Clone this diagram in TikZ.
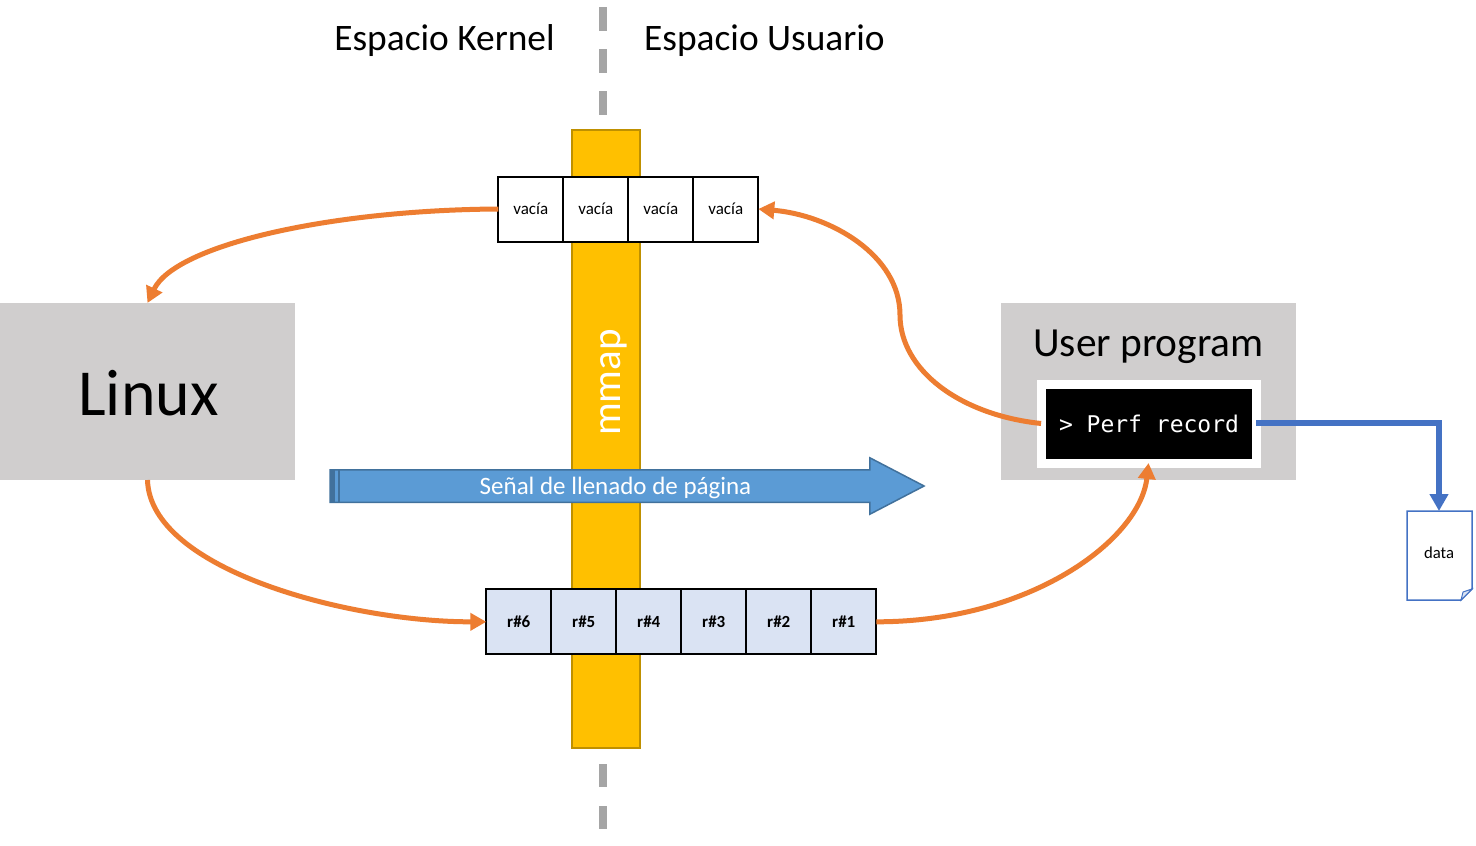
\documentclass[tikz,border=0pt]{standalone}
\usepackage{fontspec}
\setmainfont{Carlito}
\setmonofont{DejaVu Sans Mono}
\usetikzlibrary{arrows.meta}
\usetikzlibrary{shapes.arrows}
\definecolor{boxgray}{HTML}{D0CECE}
\definecolor{busorange}{HTML}{ED7D31}
\definecolor{diskblue}{HTML}{4472C4}
\definecolor{mmapgold}{HTML}{FFC000}
\definecolor{mmapedge}{HTML}{BF9000}
\definecolor{signalblue}{HTML}{5B9BD5}
\definecolor{signaledge}{HTML}{41719C}
\definecolor{cellblue}{HTML}{DAE3F3}
\definecolor{dashgray}{HTML}{A5A5A5}
\tikzset{
  bigbox/.style={fill=boxgray, minimum width=295pt, minimum height=177pt, inner sep=0pt, outer sep=0pt},
  cellbox/.style={draw=black, line width=2pt, minimum width=65pt, minimum height=65pt, inner sep=0pt, outer sep=0pt, font=\fontsize{17}{20}\selectfont},
  fullcell/.style={cellbox, fill=cellblue, font=\fontsize{17}{20}\selectfont\bfseries},
  title/.style={font=\fontsize{37.4}{42}\selectfont},
  flow/.style={draw=busorange, line width=5pt, -{Triangle[length=16pt,width=17pt]}},
  spacedash/.style={draw=dashgray, line width=7.5pt}
}
\begin{document}
\begin{tikzpicture}[x=1pt,y=-1pt]
      \useasboundingbox (0,0) rectangle (1476,846);
      \fill[white] (0,0) rectangle (1476,846);
      % kernel / user split
      \draw[spacedash] (603,7) -- (603,31);
      \draw[spacedash] (603,49) -- (603,73);
      \draw[spacedash] (603,91) -- (603,115);
      \draw[spacedash] (603,764) -- (603,787);
      \draw[spacedash] (603,806) -- (603,829);
      \node[title] (KERNEL) at (444.5,41) {Espacio Kernel};
      \node[title] (USER) at (764.5,41) {Espacio Usuario};
      % mmap bar
      \node[fill=mmapgold, draw=mmapedge, line width=1.5pt, minimum width=68pt, minimum height=618pt, inner sep=0pt, outer sep=0pt] (MMAP) at (606,439) {};
      \node[white, rotate=90, font=\fontsize{41}{44}\selectfont] (MMAPTEXT) at (614,382.5) {mmap};
      % signal arrow
      \node[single arrow, fill=signalblue, draw=signaledge, line width=1.5pt, minimum height=594pt, minimum width=55pt, single arrow head extend=12pt, single arrow tip angle=55, inner sep=0pt, outer sep=0pt, anchor=west] (SIGNAL) at (330,486) {\rule{0pt}{31pt}};
      \fill[signaledge] (330,470) rectangle (335,502);
      \fill[signaledge] (337.5,470) rectangle (340,502);
      \node[white, font=\fontsize{25}{28}\selectfont] (SIGNALTEXT) at (615.5,488) {Señal de llenado de página};
      % main boxes
      \node[bigbox] (LINUX) at (147.5,391.5) {};
      \node[font=\fontsize{65.7}{70}\selectfont] (LINUXTEXT) at (148.5,393) {Linux};
      \node[bigbox] (PROGRAM) at (1148.5,391.5) {};
      \node[font=\fontsize{41.4}{46}\selectfont] (PROGRAMTEXT) at (1148.5,347) {User program};
      \node[fill=white, minimum width=224pt, minimum height=88pt, inner sep=0pt, outer sep=0pt] (FRAME) at (1149,424) {};
      \node[fill=black, text=white, minimum width=206pt, minimum height=70pt, inner sep=0pt, outer sep=0pt, font=\ttfamily\fontsize{23}{26}\selectfont] (TERM) at (1149,424) {> Perf record};
      % ring buffer
      \foreach \name/\x in {V1/530.8,V2/595.8,V3/660.8,V4/725.8}
        \node[cellbox, fill=white] (\name) at (\x,209) {vacía};
      \foreach \n/\x in {6/518.8,5/583.8,4/648.8,3/713.8,2/778.8,1/843.8}
        \node[fullcell] (R\n) at (\x,621.8) {r\#\n};
      % data file
      \node[minimum width=65pt, minimum height=89pt, inner sep=0pt, outer sep=0pt, font=\fontsize{16.7}{18}\selectfont] (DATA) at (1439,555.5) {\raisebox{6pt}{data}};
      \draw[diskblue, line width=1.5pt] (1407,511) -- (1472,511) -- (1472,589) -- (1461,600) -- (1407,600) -- cycle;
      \filldraw[draw=diskblue, fill=cellblue, line width=1pt] (1461,600) -- (1463,592) -- (1472,589) -- cycle;
      % flows
      \coordinate (BEND) at (900,315);
      \draw[flow] (V1.west) .. controls (330,210) and (175,245) .. (LINUX.north);
      \draw[flow] (LINUX.south) .. controls (150,570) and (350,622) .. (R6.west);
      \draw[flow, shorten >=4pt] (R1.east) .. controls (1030,622) and (1140,540) .. (TERM.south);
      \draw[draw=busorange, line width=5pt, shorten <=5pt] (TERM.west) .. controls (960,415) and (900,370) .. (BEND);
      \draw[flow] (BEND) .. controls (900,255) and (830,215) .. (V4.east);
      \draw[draw=diskblue, line width=6pt, shorten <=4pt, -{Triangle[length=17pt,width=18pt]}] ([yshift=1pt]TERM.east) -| (DATA.north);
\end{tikzpicture}
\end{document}
